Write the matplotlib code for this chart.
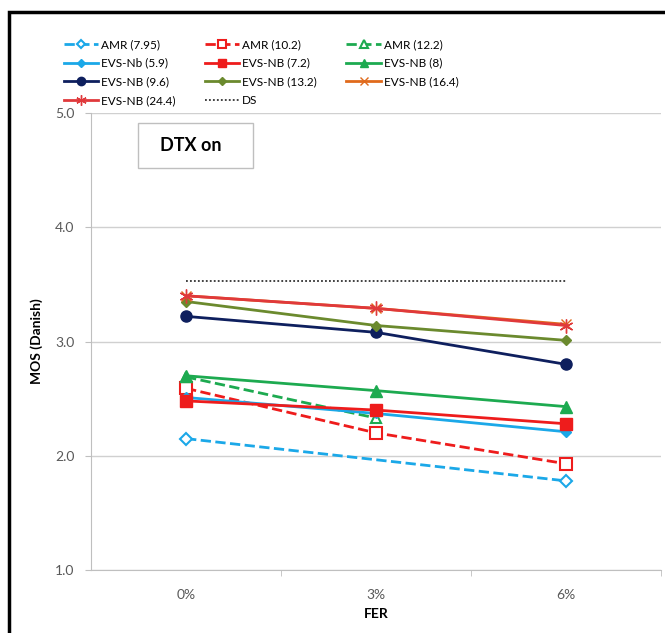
import numpy as np
import matplotlib
matplotlib.use("Agg")
import matplotlib.pyplot as plt
from matplotlib.patches import Rectangle

plt.rcParams['font.family'] = ['Lato', 'DejaVu Sans']

categories = ["0%", "3%", "6%"]
amr_795 = [2.15, None, 1.78]
amr_102 = [2.59, 2.20, 1.93]
amr_122 = [2.69, 2.33, None]
evs_59 = [2.51, 2.37, 2.21]
evs_72 = [2.48, 2.40, 2.28]
evs_8 = [2.70, 2.57, 2.43]
evs_96 = [3.22, 3.08, 2.80]
evs_132 = [3.35, 3.14, 3.01]
evs_164 = [3.40, 3.29, 3.15]
evs_244 = [3.40, 3.29, 3.14]
ds = [3.53, 3.53, 3.53]

series = [
    ("AMR (7.95)", amr_795, dict(color="#1BA8E8", ls="--", marker="D", ms=6, mfc="white", mew=1.5)),
    ("AMR (10.2)", amr_102, dict(color="#EE1C1C", ls="--", marker="s", ms=8, mfc="white", mew=1.5)),
    ("AMR (12.2)", amr_122, dict(color="#1DAA50", ls="--", marker="^", ms=7, mfc="white", mew=1.5)),
    ("EVS-Nb (5.9)", evs_59, dict(color="#1BA8E8", ls="-", marker="D", ms=5)),
    ("EVS-NB (7.2)", evs_72, dict(color="#EE1C1C", ls="-", marker="s", ms=8)),
    ("EVS-NB (8)", evs_8, dict(color="#1DAA50", ls="-", marker="^", ms=8)),
    ("EVS-NB (9.6)", evs_96, dict(color="#0E1F5E", ls="-", marker="o", ms=8)),
    ("EVS-NB (13.2)", evs_132, dict(color="#6B8A2E", ls="-", marker="D", ms=5)),
    ("EVS-NB (16.4)", evs_164, dict(color="#E06A1C", ls="-", marker="x", ms=7, mew=1)),
    ("EVS-NB (24.4)", evs_244, dict(color="#E0393B", ls="-", marker=(6, 2, 0), ms=10, mew=1)),
    ("DS", ds, dict(color="#333333", ls=(0, (1, 1.2)), marker=None, lw=1.3)),
]

fig = plt.figure(figsize=(6.65, 6.33), dpi=100)
ax = fig.add_axes([0.137, 0.0995, 0.857, 0.722])

xpos = np.arange(len(categories))
handles = []
for name, vals, st in series:
    st = dict(st)
    lw = st.pop("lw", 2.0)
    xs = [x for x, v in zip(xpos, vals) if v is not None]
    ys = [v for v in vals if v is not None]
    h, = ax.plot(xs, ys, label=name, lw=lw, **st)
    handles.append(h)

ax.set_xlim(-0.5, 2.5)
ax.set_ylim(1.0, 5.0)
ax.set_yticks([1.0, 2.0, 3.0, 4.0, 5.0])
ax.set_yticklabels(["1.0", "2.0", "3.0", "4.0", "5.0"])
ax.set_xticks(xpos)
ax.set_xticklabels(categories)
ax.set_xticks([0.5, 1.5, 2.5], minor=True)
ax.tick_params(axis="x", which="major", length=0, labelsize=10, colors="#595959", pad=14)
ax.tick_params(axis="x", which="minor", length=4, color="#BFBFBF")
ax.tick_params(axis="y", length=4, color="#BFBFBF", labelsize=10, labelcolor="#595959", pad=8)
ax.grid(axis="y", color="#D0D0D0", lw=1)
ax.set_axisbelow(True)
for s in ["top", "right"]:
    ax.spines[s].set_visible(False)
ax.spines["left"].set_color("#BFBFBF")
ax.spines["bottom"].set_color("#BFBFBF")
ax.set_ylabel("MOS (Danish)", fontsize=10, fontweight="bold", labelpad=9)
ax.set_xlabel("FER", fontsize=10, fontweight="bold", labelpad=5)

ax.add_patch(Rectangle((0.0825, 0.880), 0.2015, 0.098, transform=ax.transAxes,
                       fc="white", ec="#BFBFBF", lw=1, zorder=5))
ax.text(0.174, 0.929, "DTX on", transform=ax.transAxes, fontsize=13, fontweight="bold",
        ha="center", va="center", zorder=6)

# row-major legend order for 3 columns x 4 rows
order = [0, 3, 6, 9, 1, 4, 7, 10, 2, 5, 8]
fig.legend(handles=[handles[i] for i in order], loc="upper left",
           bbox_to_anchor=(0.080, 0.955), ncol=3,
           frameon=False, fontsize=8.5, handlelength=2.9, columnspacing=2.5,
           labelspacing=0.65, handletextpad=0.25, markerscale=0.75)

fig.patches.append(Rectangle((9 / 665, -0.1), 1.2, 1.1 - 12 / 633, transform=fig.transFigure,
                             fill=False, ec="black", lw=2.5))

fig.savefig("out.png", dpi=100)
